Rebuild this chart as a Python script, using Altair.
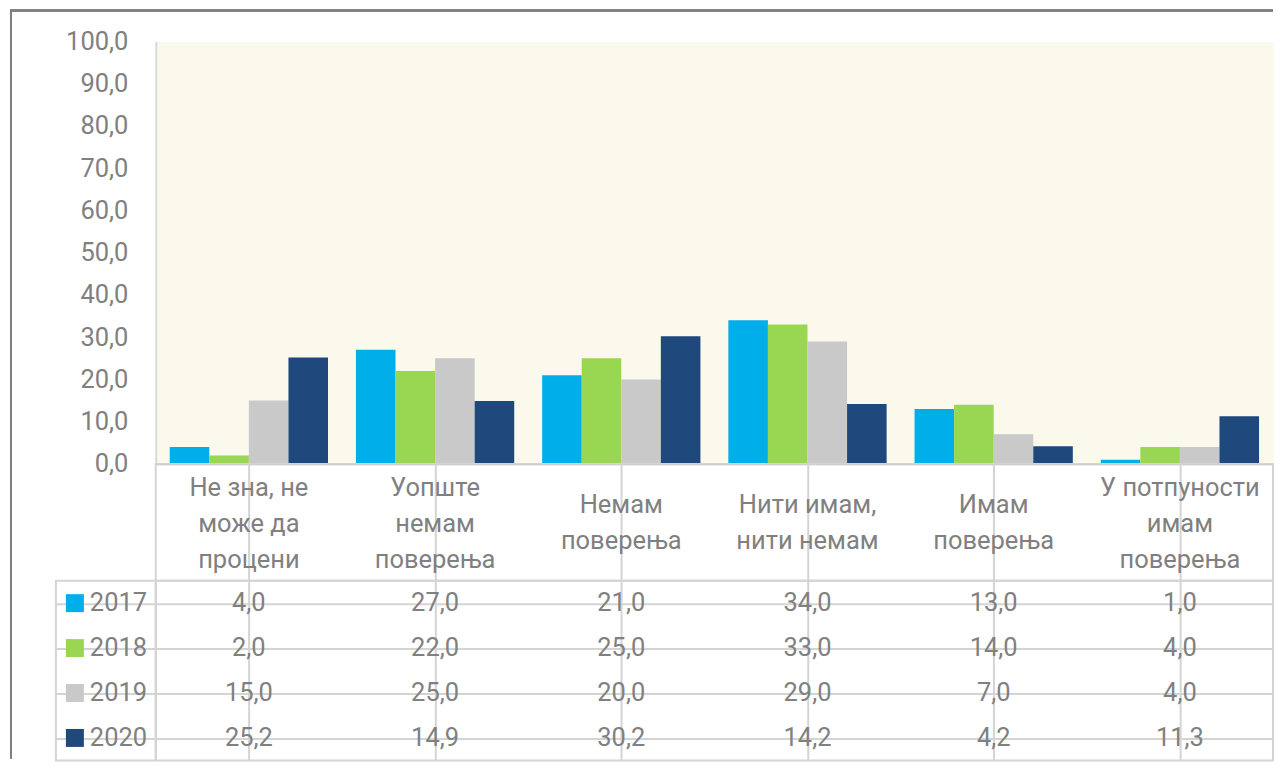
import altair as alt
import pandas as pd

categories = ["Не зна, не\nможе да\nпроцени", "Уопште\nнемам\nповерења", "Немам\nповерења",
              "Нити имам,\nнити немам", "Имам\nповерења", "У потпуности\nимам\nповерења"]
years = ["2017", "2018", "2019", "2020"]
v2017 = [4.0, 27.0, 21.0, 34.0, 13.0, 1.0]
v2018 = [2.0, 22.0, 25.0, 33.0, 14.0, 4.0]
v2019 = [15.0, 25.0, 20.0, 29.0, 7.0, 4.0]
v2020 = [25.2, 14.9, 30.2, 14.2, 4.2, 11.3]
colors = ["#00AEEA", "#99D651", "#C9C9C9", "#1F497D"]
y_ticks = [0, 10, 20, 30, 40, 50, 60, 70, 80, 90, 100]

series = {"2017": v2017, "2018": v2018, "2019": v2019, "2020": v2020}
rows = []
for yr in years:
    for c, v in zip(categories, series[yr]):
        rows.append({"cat": c, "year": yr, "value": v})
df = pd.DataFrame(rows)
df_cat = pd.DataFrame({"cat": categories})
df_year = pd.DataFrame({"year": years})

FONT = "Roboto"
FS = 25.5
TXT = "#808080"
LINE = "#D4D4D4"
LH = 36

color_scale = alt.Scale(domain=years, range=colors)
fmt = "replace(format(datum.value, '.1f'), '.', ',')"

W, H_PLOT, H_HEAD, H_TAB, W_LEG = 1119, 423, 117, 180, 100

bars = alt.Chart(df).mark_bar().encode(
    x=alt.X("cat:N", sort=categories,
            scale=alt.Scale(domain=categories, paddingInner=0.15, paddingOuter=0.075),
            axis=alt.Axis(labels=False, ticks=False, title=None, grid=False,
                          domainColor="#BFBFBF", domainWidth=2)),
    xOffset=alt.XOffset("year:N", scale=alt.Scale(domain=years, paddingInner=0, paddingOuter=0)),
    y=alt.Y("value:Q", scale=alt.Scale(domain=[0, 100]),
            axis=alt.Axis(values=y_ticks, labelExpr=fmt, ticks=False, grid=False,
                          domainColor="#D9D9D9", domainWidth=2, labelPadding=28,
                          labelFontSize=FS, labelColor=TXT, labelFont=FONT, title=None)),
    color=alt.Color("year:N", scale=color_scale, legend=None),
)
border_v = alt.Chart(df_year).mark_rule(color="#7F7F7F", strokeWidth=2).encode(
    x=alt.value(-145), y=alt.value(-31), y2=alt.value(718))
border_h = alt.Chart(df_year).mark_rule(color="#7F7F7F", strokeWidth=2).encode(
    x=alt.value(-146), x2=alt.value(1119), y=alt.value(-31))
plot = alt.layer(bars, border_v, border_h).properties(
    width=W, height=H_PLOT, view=alt.ViewBackground(fill="#FBF8EC", stroke="transparent"))

x_tab = alt.X("cat:N", sort=categories,
              scale=alt.Scale(domain=categories, paddingInner=0, paddingOuter=0),
              axis=alt.Axis(labels=False, ticks=False, domain=False, title=None, grid=True,
                            gridColor=LINE, gridWidth=2, bandPosition=0))
y_tab = alt.Y("year:N", sort=years,
              scale=alt.Scale(domain=years, paddingInner=0, paddingOuter=0),
              axis=alt.Axis(labels=False, ticks=False, domain=False, title=None, grid=True,
                            gridColor=LINE, gridWidth=2, bandPosition=0))

head_base = alt.Chart(df_cat).transform_calculate(
    nlines="length(split(datum.cat, '\\n'))"
)
head3 = head_base.transform_filter("datum.nlines == 3").mark_text(
    lineBreak="\n", lineHeight=LH, fontSize=FS, font=FONT, color=TXT, baseline="middle", dy=-LH + 2
).encode(x=x_tab, text="cat:N")
head2 = head_base.transform_filter("datum.nlines == 2").mark_text(
    lineBreak="\n", lineHeight=LH, fontSize=FS, font=FONT, color=TXT, baseline="middle", dy=-LH / 2 + 1
).encode(x=x_tab, text="cat:N")
header = alt.layer(head3, head2).properties(
    width=W, height=H_HEAD, view=alt.ViewBackground(stroke=LINE, strokeWidth=2))

values = alt.Chart(df).transform_calculate(
    label=fmt
).mark_text(fontSize=FS, font=FONT, color=TXT, baseline="middle").encode(
    x=x_tab, y=y_tab, text="label:N"
).properties(width=W, height=H_TAB, view=alt.ViewBackground(stroke=LINE, strokeWidth=2))

leg_sq = alt.Chart(df_year).mark_square(size=324, opacity=1).encode(
    x=alt.value(19), y=y_tab, color=alt.Color("year:N", scale=color_scale, legend=None))
leg_tx = alt.Chart(df_year).mark_text(align="left", baseline="middle", fontSize=FS,
                                      font=FONT, color=TXT).encode(
    x=alt.value(34), y=y_tab, text="year:N")
legend = alt.layer(leg_sq, leg_tx).properties(
    width=W_LEG, height=H_TAB, view=alt.ViewBackground(stroke=LINE, strokeWidth=2))

blank1 = alt.Chart(df_year).mark_point(opacity=0).encode(x=alt.value(0), y=alt.value(0)).properties(
    width=W_LEG, height=H_PLOT, view=alt.ViewBackground(stroke="transparent"))
blank2 = alt.Chart(df_year).mark_point(opacity=0).encode(x=alt.value(0), y=alt.value(0)).properties(
    width=W_LEG, height=H_HEAD, view=alt.ViewBackground(stroke="transparent"))

chart = alt.concat(
    blank1, plot, blank2, header, legend, values,
    columns=2, spacing=0, bounds="flush", align="each"
).resolve_scale(x="independent", y="independent", color="shared").properties(
    padding=0, background="white")

chart.save("out.html", embed_options={"renderer": "svg", "actions": False})
